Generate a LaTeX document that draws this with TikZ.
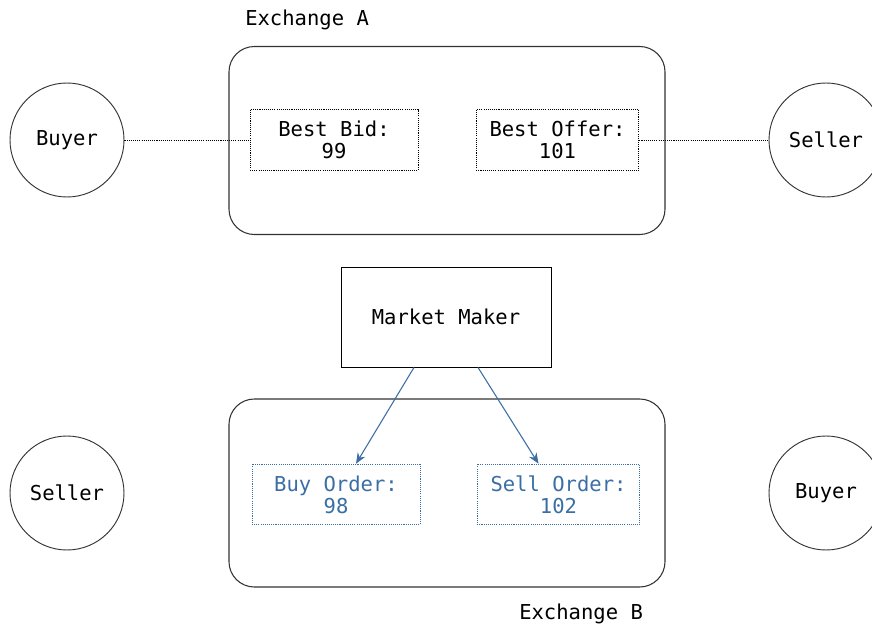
\documentclass[tikz,border=0pt]{standalone}
\usepackage{fontspec}
\setmonofont{DejaVu Sans Mono}
\usetikzlibrary{calc,arrows.meta}
\definecolor{mmblue}{HTML}{3A6EA5}
\definecolor{edge}{HTML}{333333}
\tikzset{
  px/.style={x=0.75pt,y=-0.75pt},
  txt/.style={font=\ttfamily\fontsize{15.4}{16.5}\selectfont},
  party/.style={circle,draw=edge,line width=0.7pt,minimum size=85.5pt,inner sep=0pt,txt},
  exch/.style={draw=edge,line width=0.8pt,rounded corners=19pt,minimum width=327pt,minimum height=141pt},
  quote/.style={draw=black,line width=0.7pt,dash pattern=on 0.8pt off 0.8pt,minimum width=126pt,minimum height=45.5pt,inner sep=0pt,align=center,txt},
  order/.style={quote,draw=mmblue,text=mmblue},
  mmbox/.style={draw=black,line width=0.7pt,minimum width=157.5pt,minimum height=75pt,txt},
  link/.style={line width=0.7pt,dash pattern=on 0.8pt off 0.8pt},
  push/.style={draw=mmblue,line width=0.8pt,-{Stealth[length=8pt,width=6.5pt]}},
  lbl/.style={anchor=west,inner sep=0pt,txt}
}
\begin{document}
\begin{tikzpicture}[px]
\useasboundingbox (0,0) rectangle (872,628);
% Exchange A
\node[exch] (exA) at (447,140.5) {};
\node[lbl] (labA) at (245,20) {Exchange A};
\node[quote] (bid) at (334,140) {Best Bid:\\99};
\node[quote,minimum width=122pt] (offer) at (557.5,140) {Best Offer:\\101};
\node[party] (buyA) at (67,140) {Buyer};
\node[party] (sellA) at (826,140) {Seller};
\draw[link] (buyA) -- (bid);
\draw[link] (offer) -- (sellA);
% Market maker
\node[mmbox] (mm) at (446,317) {Market Maker};
% Exchange B
\node[exch] (exB) at (447,493) {};
\node[lbl] (labB) at (519,614) {Exchange B};
\node[order] (buyord) at (336,494.5) {Buy Order:\\98};
\node[order,minimum width=122pt] (sellord) at (558.5,494.5) {Sell Order:\\102};
\node[party] (sellB) at (67,493) {Seller};
\node[party] (buyB) at (826,493) {Buyer};
\draw[push] ($(mm.south)+(-32,0)$) -- ($(buyord.north)+(20,0)$);
\draw[push] ($(mm.south)+(32,0)$) -- ($(sellord.north)+(-20,0)$);
\end{tikzpicture}
\end{document}
